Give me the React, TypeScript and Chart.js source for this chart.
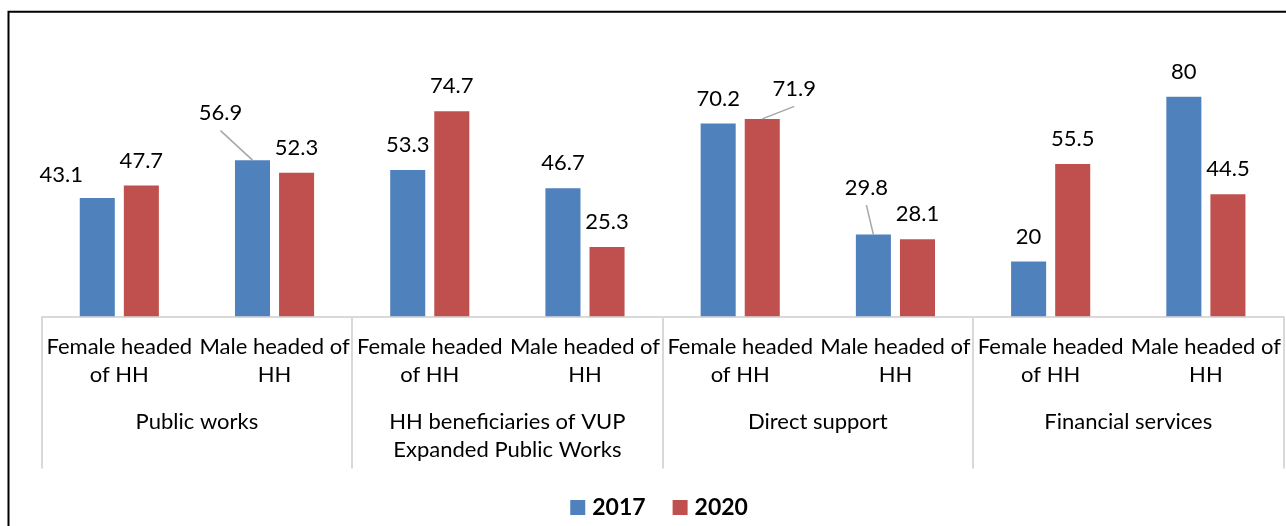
import React, { useEffect, useRef } from 'react';
import { Chart, registerables } from 'chart.js';

Chart.register(...registerables);

// ---- data ----
const subCategories: string[][] = [
  ['Female headed', 'of HH'],
  ['Male headed of', 'HH'],
  ['Female headed', 'of HH'],
  ['Male headed of', 'HH'],
  ['Female headed', 'of HH'],
  ['Male headed of', 'HH'],
  ['Female headed', 'of HH'],
  ['Male headed of', 'HH'],
];
const groups: (string | string[])[] = [
  'Public works',
  ['HH beneficiaries of VUP', 'Expanded Public Works'],
  'Direct support',
  'Financial services',
];
const seriesNames = ['2017', '2020'];
const values2017 = [43.1, 56.9, 53.3, 46.7, 70.2, 29.8, 20, 80];
const values2020 = [47.7, 52.3, 74.7, 25.3, 71.9, 28.1, 55.5, 44.5];

// ---- label placement tweaks (as in the original, some labels moved by hand) ----
const labelShift2017 = [[-36, 2], [-32, -22], [0, 0], [0, 0], [0, 0], [-7, -22], [0, 0], [0, 0]];
const labelShift2020 = [[0, 0], [0, 0], [0, 0], [0, 0], [32, -5], [0, 0], [0, 0], [0, 0]];
const leader2017 = [false, true, false, false, false, true, false, false];
const leader2020 = [false, false, false, false, true, false, false, false];

const COLORS = ['#4F81BD', '#C0504D'];
const FONT = 'Lato, Carlito, Calibri, "Open Sans", sans-serif';

const framePlugin = {
  id: 'frame',
  beforeDraw(chart: any) {
    const ctx = chart.ctx;
    ctx.save();
    ctx.fillStyle = '#fff';
    ctx.fillRect(0, 0, chart.width, chart.height);
    ctx.strokeStyle = '#000';
    ctx.lineWidth = 2;
    ctx.beginPath();
    ctx.moveTo(8.5, chart.height + 10);
    ctx.lineTo(8.5, 11.8);
    ctx.lineTo(chart.width + 10, 11.8);
    ctx.stroke();
    ctx.restore();
  },
};

const separatorsPlugin = {
  id: 'separators',
  afterDraw(chart: any) {
    const xs = chart.scales.x;
    const g = chart.scales.x2;
    const { left, right, bottom } = chart.chartArea;
    const per = subCategories.length / groups.length;
    const ctx = chart.ctx;
    ctx.save();
    ctx.strokeStyle = '#d9d9d9';
    ctx.lineWidth = 2;
    for (let i = 0; i <= groups.length; i++) {
      let x: number;
      if (i === 0) x = left;
      else if (i === groups.length) x = right;
      else x = (xs.getPixelForValue(i * per - 1) + xs.getPixelForValue(i * per)) / 2;
      x = Math.round(x);
      ctx.beginPath();
      ctx.moveTo(x, bottom);
      ctx.lineTo(x, g.bottom);
      ctx.stroke();
    }
    ctx.restore();
  },
};

const valueLabelsPlugin = {
  id: 'valueLabels',
  afterDatasetsDraw(chart: any) {
    const ctx = chart.ctx;
    const shifts = [labelShift2017, labelShift2020];
    const leaders = [leader2017, leader2020];
    ctx.save();
    ctx.font = `22px ${FONT}`;
    ctx.textAlign = 'center';
    ctx.textBaseline = 'middle';
    chart.data.datasets.forEach((ds: any, di: number) => {
      const meta = chart.getDatasetMeta(di);
      meta.data.forEach((bar: any, i: number) => {
        const [dx, dy] = shifts[di][i];
        const lx = bar.x + dx;
        const ly = bar.y - 25 + dy;
        if (leaders[di][i]) {
          ctx.strokeStyle = '#a6a6a6';
          ctx.lineWidth = 1.5;
          ctx.beginPath();
          ctx.moveTo(lx, ly + 17.5);
          ctx.lineTo(bar.x, bar.y);
          ctx.stroke();
        }
        ctx.fillStyle = '#000';
        ctx.fillText(String(ds.data[i]), lx, ly);
      });
    });
    ctx.restore();
  },
};

const legendPlugin = {
  id: 'customLegend',
  afterDraw(chart: any) {
    const ctx = chart.ctx;
    const { left, right } = chart.chartArea;
    const box = 15;
    const gap = 7;
    const itemGap = 27;
    const cy = 507.5;
    ctx.save();
    ctx.font = `bold 23px ${FONT}`;
    const items = chart.data.datasets.map((d: any) => ({
      text: d.label,
      color: d.backgroundColor,
      w: ctx.measureText(d.label).width,
    }));
    const total = items.reduce((s: number, it: any) => s + box + gap + it.w, 0) + itemGap * (items.length - 1);
    let x = (left + right) / 2 - 3.5 - total / 2;
    ctx.textBaseline = 'middle';
    ctx.textAlign = 'left';
    items.forEach((it: any) => {
      ctx.fillStyle = it.color;
      ctx.fillRect(x, cy - box / 2, box, box);
      x += box + gap;
      ctx.fillStyle = '#000';
      ctx.fillText(it.text, x, cy);
      x += it.w + itemGap;
    });
    ctx.restore();
  },
};

export default function App() {
  const ref = useRef<HTMLCanvasElement | null>(null);

  useEffect(() => {
    if (!ref.current) return;
    const chart = new Chart(ref.current, {
      type: 'bar',
      data: {
        labels: subCategories as any,
        datasets: [
          {
            label: seriesNames[0],
            data: values2017,
            backgroundColor: COLORS[0],
            xAxisID: 'x',
            yAxisID: 'y',
            categoryPercentage: 0.568,
            barPercentage: 0.795,
          },
          {
            label: seriesNames[1],
            data: values2020,
            backgroundColor: COLORS[1],
            xAxisID: 'x',
            yAxisID: 'y',
            categoryPercentage: 0.568,
            barPercentage: 0.795,
          },
        ],
      },
      options: {
        animation: false,
        responsive: false,
        devicePixelRatio: 1,
        layout: { padding: { top: 41.7, left: 41.7, right: 2.5, bottom: 57.5 } },
        plugins: {
          legend: { display: false },
          tooltip: { enabled: false },
        },
        scales: {
          x: {
            type: 'category',
            position: 'bottom',
            offset: true,
            grid: { display: false, drawTicks: true, tickLength: 16 },
            border: { display: true, color: '#d9d9d9', width: 2 },
            ticks: {
              autoSkip: false,
              maxRotation: 0,
              minRotation: 0,
              padding: 0,
              color: '#000',
              font: { family: FONT, size: 22, lineHeight: 1.286 },
            },
            afterFit: (s: any) => {
              s.height = 79;
              s.paddingLeft = 0;
              s.paddingRight = 0;
            },
          },
          x2: {
            type: 'category',
            position: 'bottom',
            labels: groups as any,
            offset: true,
            grid: { display: false, drawTicks: true, tickLength: 12.4 },
            border: { display: false },
            ticks: {
              autoSkip: false,
              maxRotation: 0,
              minRotation: 0,
              padding: 0,
              color: '#000',
              font: { family: FONT, size: 22, lineHeight: 1.286 },
            },
            afterFit: (s: any) => {
              s.height = 73;
              s.paddingLeft = 0;
              s.paddingRight = 0;
            },
          },
          y: { display: false, min: 0, max: 100 },
        },
      } as any,
      plugins: [framePlugin, separatorsPlugin, valueLabelsPlugin, legendPlugin],
    });
    return () => chart.destroy();
  }, []);

  return (
    <div style={{ position: 'fixed', left: 0, top: 0, width: 1286, height: 526, background: '#fff' }}>
      <canvas ref={ref} width={1286} height={526} style={{ display: 'block' }} />
    </div>
  );
}
